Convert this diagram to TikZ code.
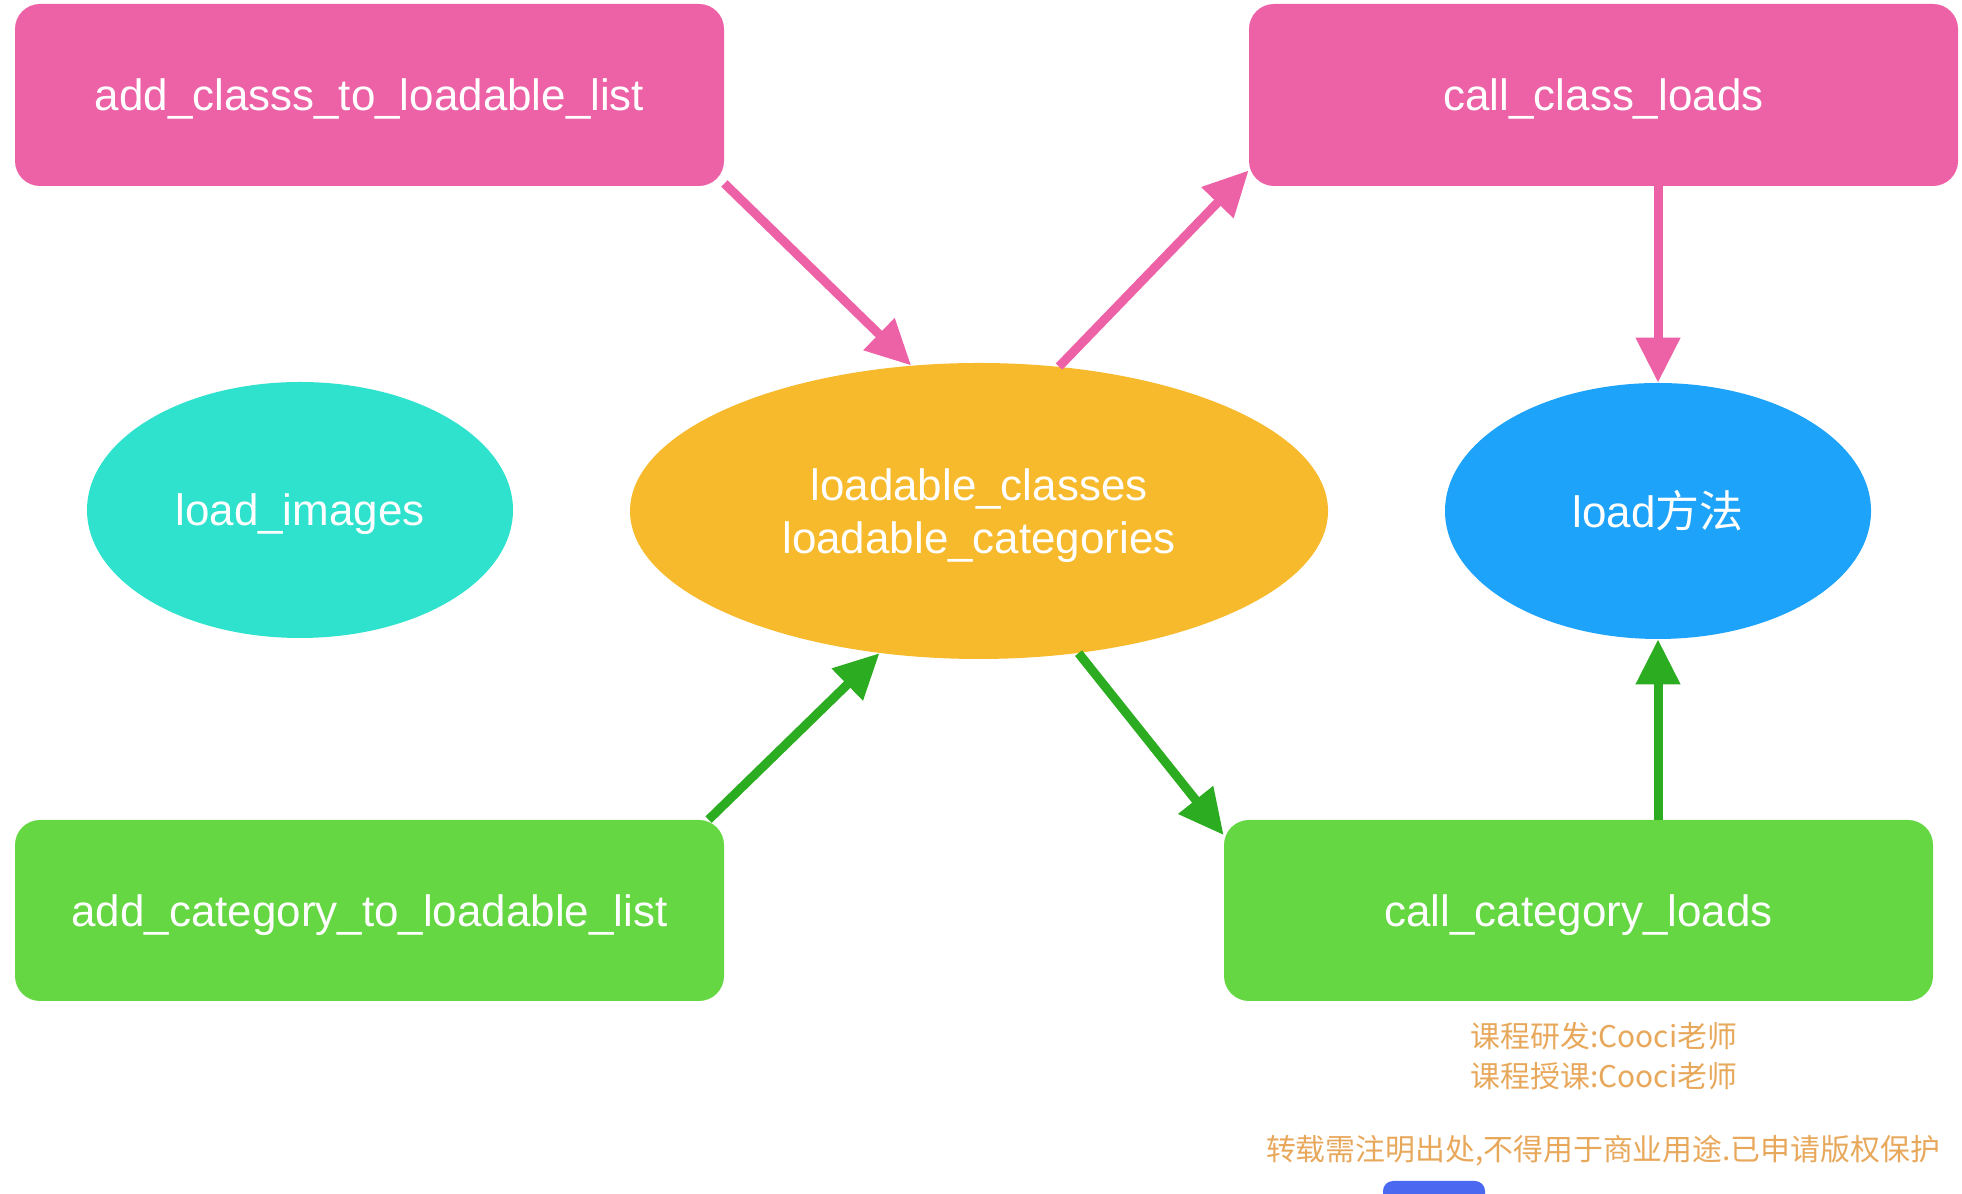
\documentclass[tikz,border=0pt]{standalone}
\usepackage{fontspec}
\setmainfont{Liberation Sans}
\newfontfamily\cjk{Noto Sans CJK SC}
\usetikzlibrary{shapes.geometric,arrows.meta}

\definecolor{pinkbox}{RGB}{237,98,167}
\definecolor{greenbox}{RGB}{100,215,66}
\definecolor{tealoval}{RGB}{46,226,205}
\definecolor{orangeoval}{RGB}{246,186,44}
\definecolor{blueoval}{RGB}{29,163,250}
\definecolor{greenline}{RGB}{44,172,32}
\definecolor{notetext}{RGB}{232,168,92}
\definecolor{logoblue}{RGB}{74,104,240}

\begin{document}
\begin{tikzpicture}[
		box/.style={rectangle, rounded corners=0.5cm, minimum width=14.18cm, minimum height=3.64cm, text depth=0pt, text=white, font=\fontsize{25}{30}\selectfont},
		oval/.style={ellipse, inner sep=0pt, align=center, text=white, font=\fontsize{25}{30}\selectfont},
		flow/.style={line width=0.18cm, -{Triangle[length=0.9cm, width=0.85cm]}},
		note/.style={text=notetext, font=\cjk\fontsize{17}{20}\selectfont}
	]
				\useasboundingbox (0,0) rectangle (39.24,23.88);
				% Boxes
				\node[box, fill=pinkbox] (addcls) at (7.39,21.98) {add\_classs\_to\_loadable\_list};
				\node[box, fill=pinkbox] (callcls) at (32.07,21.98) {call\_class\_loads};
				\node[box, fill=greenbox, minimum height=3.62cm] (addcat) at (7.39,5.67) {add\_category\_to\_loadable\_list};
				\node[box, fill=greenbox, minimum height=3.62cm] (callcat) at (31.57,5.67) {call\_category\_loads};
				% Ovals
				\node[oval, fill=tealoval, minimum width=8.52cm, minimum height=5.12cm, text depth=0pt] (images) at (6.0,13.68) {load\_images};
				\node[oval, fill=orangeoval, minimum width=13.96cm, minimum height=5.92cm, text depth=0pt] (tables) at (19.58,13.66) {loadable\_classes\\loadable\_categories};
				\node[oval, fill=blueoval, minimum width=8.52cm, minimum height=5.12cm] (load) at (33.16,13.66) {load{\cjk 方法}};
				% Arrows
				\draw[flow, pinkbox] (addcls.346.6) -- (tables.115.8);
				\draw[flow, pinkbox] (tables.61) -- (callcls.192.5);
				\draw[flow, pinkbox] (callcls.south -| load.north) -- (load.north);
				\draw[flow, greenline] (addcat.15) -- (tables.235.9);
				\draw[flow, greenline] (tables.305.9) -- (callcat.168.1);
				\draw[flow, greenline] (callcat.north -| load.south) -- (load.south);
				% Notes
				\node[note] (dev) at (32.08,3.16) {课程研发:Cooci老师};
				\node[note] (teach) at (32.08,2.36) {课程授课:Cooci老师};
				\node[note] (copy) at (32.06,0.86) {转载需注明出处,不得用于商业用途.已申请版权保护};
				% Logo
				\fill[logoblue, rounded corners=0.2cm] (27.66,-0.5) rectangle (29.7,0.26);
			\end{tikzpicture}
\end{document}
